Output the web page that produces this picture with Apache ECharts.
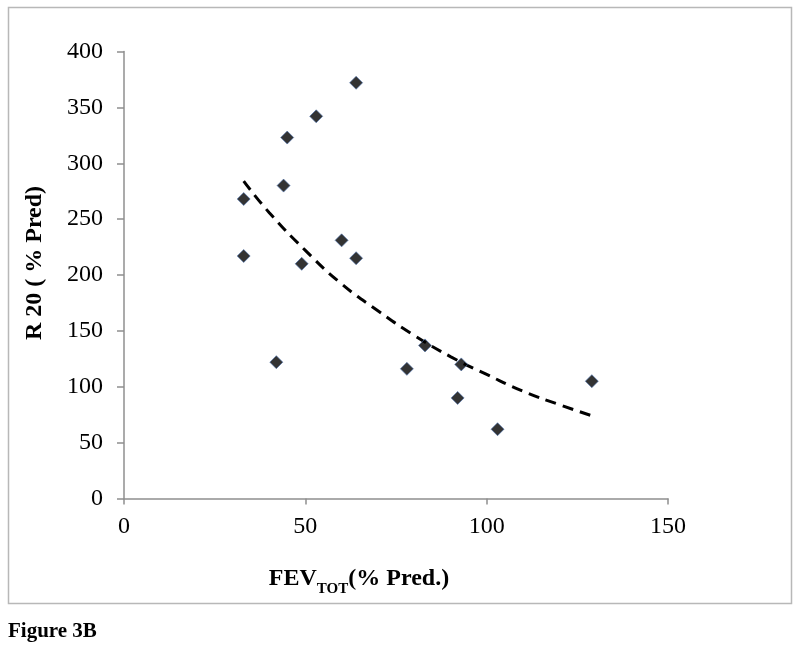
<!DOCTYPE html>
<html>
<head>
<meta charset="utf-8">
<script src="https://cdn.jsdelivr.net/npm/echarts@6/dist/echarts.min.js"></script>
<style>html,body{margin:0;padding:0;background:#fff}#c{width:800px;height:658px}</style>
</head>
<body>
<div id="c"></div>
<script>
// Measured data points (FEV_TOT % pred, R20 % pred)
const fevValues = [33, 33, 42, 44, 45, 49, 53, 60, 64, 64, 78, 83, 92, 93, 103, 129];
const r20Values = [268, 217, 122, 280, 323, 210, 342, 231, 372, 215, 116, 137, 90, 120, 62, 105];
// Dashed trend line
const trendX = [33, 40, 50, 60, 70, 80, 90, 100, 110, 120, 129];
const trendY = [284, 256, 222, 192, 168, 146, 127, 111, 96, 84, 74];
const xTicks = [0, 50, 100, 150];
const yTicks = [0, 50, 100, 150, 200, 250, 300, 350, 400];

const scatterData = fevValues.map((x, i) => [x, r20Values[i]]);
const trendData = trendX.map((x, i) => [x, trendY[i]]);

const chart = echarts.init(document.getElementById('c'), null, {renderer: 'canvas'});
const serif = '"Liberation Serif", "Times New Roman", serif';
chart.setOption({
  animation: false,
  backgroundColor: '#fff',
  grid: {left: 124, right: 132, top: 51.5, bottom: 159.5, containLabel: false},
  graphic: [
    {type: 'rect', shape: {x: 8.5, y: 7.5, width: 783, height: 596}, style: {fill: 'none', stroke: '#b8b8b8', lineWidth: 1.5}, silent: true},
    {type: 'text', left: 8, top: 621, style: {text: 'Figure 3B', font: 'bold 21px ' + serif, fill: '#000'}},
    {type: 'text', x: 35, y: 263, rotation: Math.PI / 2, style: {text: 'R 20 ( % Pred)', font: 'bold 24px ' + serif, fill: '#000', align: 'center', verticalAlign: 'middle'}},
    {type: 'text', x: 359, y: 578, style: {
      text: '{a|FEV}{s|TOT}{a|(% Pred.)}', align: 'center', verticalAlign: 'middle',
      rich: {
        a: {font: 'bold 24px ' + serif, fill: '#000', verticalAlign: 'bottom', lineHeight: 26},
        s: {font: 'bold 15px ' + serif, fill: '#000', verticalAlign: 'bottom', lineHeight: 17, padding: [0, 0, -6, 0]}
      }
    }}
  ],
  xAxis: {
    type: 'value', min: xTicks[0], max: xTicks[xTicks.length - 1], interval: 50,
    axisLine: {show: true, onZero: false, lineStyle: {color: '#8f8f8f', width: 1.5}},
    axisTick: {show: true, length: 6, lineStyle: {color: '#8f8f8f', width: 1.5}},
    splitLine: {show: false},
    axisLabel: {margin: 16, fontFamily: serif, fontSize: 24, color: '#000'}
  },
  yAxis: {
    type: 'value', min: yTicks[0], max: yTicks[yTicks.length - 1], interval: 50,
    axisLine: {show: true, lineStyle: {color: '#8f8f8f', width: 1.5}},
    axisTick: {show: true, length: 7, lineStyle: {color: '#8f8f8f', width: 1.5}},
    splitLine: {show: false},
    axisLabel: {margin: 21, fontFamily: serif, fontSize: 24, color: '#000'}
  },
  series: [
    {
      type: 'line', data: trendData, smooth: true, symbol: 'none',
      lineStyle: {color: '#000', width: 3, type: [11, 7]}, z: 2
    },
    {
      type: 'scatter', data: scatterData, symbol: 'diamond', symbolSize: 13,
      itemStyle: {color: '#000', borderColor: '#4f73ad', borderWidth: 0.8}, z: 3
    }
  ]
});
</script>
</body>
</html>
